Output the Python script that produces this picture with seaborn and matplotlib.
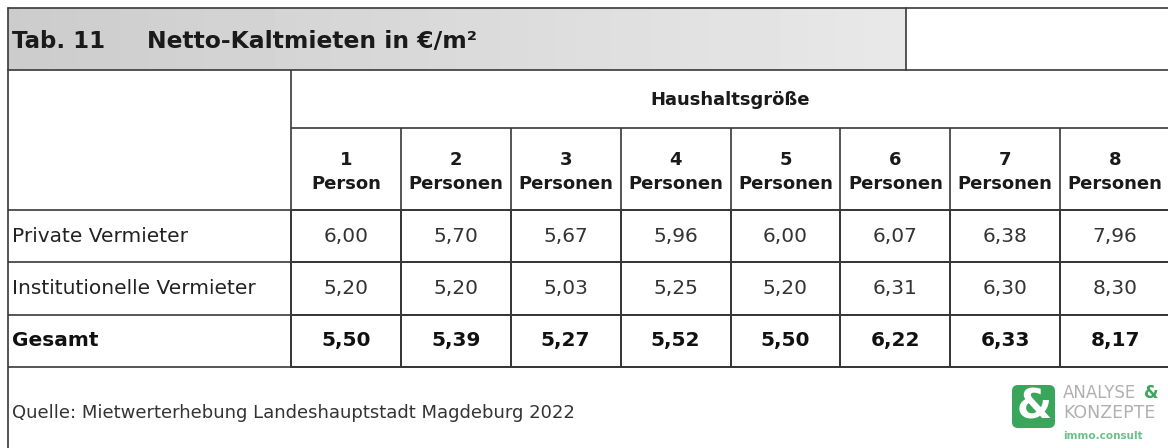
import numpy as np
import pandas as pd
import seaborn as sns
import matplotlib.pyplot as plt
from matplotlib.colors import ListedColormap
from matplotlib.lines import Line2D
from matplotlib.patches import FancyBboxPatch

sns.set_style('white')
plt.rcParams['font.family'] = ['DejaVu Sans']

# data
title_nr = 'Tab. 11'
title = 'Netto-Kaltmieten in €/m²'
group_label = 'Haushaltsgröße'
household = ['1\nPerson', '2\nPersonen', '3\nPersonen', '4\nPersonen',
             '5\nPersonen', '6\nPersonen', '7\nPersonen', '8\nPersonen']
landlords = ['Private Vermieter', 'Institutionelle Vermieter', 'Gesamt']
private = [6.00, 5.70, 5.67, 5.96, 6.00, 6.07, 6.38, 7.96]
institutional = [5.20, 5.20, 5.03, 5.25, 5.20, 6.31, 6.30, 8.30]
total = [5.50, 5.39, 5.27, 5.52, 5.50, 6.22, 6.33, 8.17]
source = 'Quelle: Mietwerterhebung Landeshauptstadt Magdeburg 2022'

W, H = 1168, 448
LINE = '#383838'
GREEN = '#3aa65b'


def fx(px):
    return px / W


def fy(py):
    return 1 - py / H


def hline(x0, x1, y):
    fig.add_artist(Line2D([fx(x0), fx(x1)], [fy(y), fy(y)], transform=fig.transFigure,
                          color=LINE, lw=1.2))


def vline(x, y0, y1):
    fig.add_artist(Line2D([fx(x), fx(x)], [fy(y0), fy(y1)], transform=fig.transFigure,
                          color=LINE, lw=1.2))


df = pd.DataFrame([private, institutional, total], index=landlords, columns=household)
labels = df.map(lambda v: f'{v:.2f}'.replace('.', ','))

fig = plt.figure(figsize=(W / 100, H / 100), dpi=100)

# grey title band
band = fig.add_axes([fx(8), fy(70), fx(906) - fx(8), fy(8) - fy(70)])
band.imshow(np.linspace(0.80, 0.91, 64)[None, :], cmap='gray', vmin=0, vmax=1,
            aspect='auto', extent=[0, 1, 0, 1])
band.axis('off')
fig.text(fx(12), fy(42), title_nr, fontsize=16.5, fontweight='bold', color='#1a1a1a', va='center')
fig.text(fx(147), fy(42), title, fontsize=16.9, fontweight='bold', color='#1a1a1a', va='center')

hline(8, W, 8)
hline(8, W, 70)
vline(906, 8, 70)
vline(8, 8, H)

# table body
ax = fig.add_axes([fx(291), fy(367), fx(1170) - fx(291), fy(210) - fy(367)])
sns.heatmap(df, ax=ax, cmap=ListedColormap(['white']), cbar=False,
            annot=labels, fmt='', annot_kws={'fontsize': 14.5, 'color': '#333333'},
            linewidths=1.2, linecolor=LINE)
ax.collections[0].set_clip_on(False)
for t in ax.texts[-len(total):]:
    t.set_fontweight('bold')
    t.set_color('#111111')

ax.xaxis.tick_top()
ax.set_xticklabels(household, rotation=0, fontsize=13, fontweight='bold',
                   linespacing=1.45, color='#1a1a1a')
ax.set_yticklabels(landlords, rotation=0, ha='left', va='center', fontsize=14.5, color='#222222')
ax.get_yticklabels()[-1].set_fontweight('bold')
ax.get_yticklabels()[-1].set_color('#111111')
ax.tick_params(axis='x', length=0, pad=12)
ax.tick_params(axis='y', length=0, pad=(291 - 12) * 0.72)
ax.set_xlabel('')
ax.set_ylabel('')

row_h = (367 - 210) / 3
col_w = (1170 - 291) / 8
hdr_top = -(210 - 128) / row_h
ax.text(4, -(210 - 100) / row_h, group_label, ha='center', va='center',
        fontsize=13, fontweight='bold', color='#1a1a1a')
ax.vlines(np.arange(1, 9), hdr_top, 0, color=LINE, lw=1.2, clip_on=False)
ax.vlines(0, -(210 - 70) / row_h, 3, color=LINE, lw=1.2, clip_on=False)
ax.hlines(hdr_top, 0, 8, color=LINE, lw=1.2, clip_on=False)
ax.hlines(np.arange(4), -(291 - 8) / col_w, 0, color=LINE, lw=1.2, clip_on=False)

fig.text(fx(12), fy(413), source, fontsize=13, color='#333333', va='center')

# logo
logo = FancyBboxPatch((10.14, (H - 426) / 100), 0.39, 0.39,
                      boxstyle='round,pad=0.02,rounding_size=0.06',
                      transform=fig.dpi_scale_trans, color=GREEN, lw=0)
fig.add_artist(logo)
fig.text(fx(1034), fy(407), '&', fontsize=29, fontweight='bold', color='white',
         ha='center', va='center')
fig.text(fx(1063), fy(393), 'ANALYSE', fontsize=12, color='#b0b0b0', va='center')
fig.text(fx(1144), fy(393), '&', fontsize=12, fontweight='bold', color=GREEN, va='center')
fig.text(fx(1063), fy(413), 'KONZEPTE', fontsize=12.5, color='#b0b0b0', va='center')
fig.text(fx(1063), fy(436), 'immo.consult', fontsize=7.5, fontweight='bold', color='#6cc08a', va='center')

fig.savefig('out.png', dpi=100)
